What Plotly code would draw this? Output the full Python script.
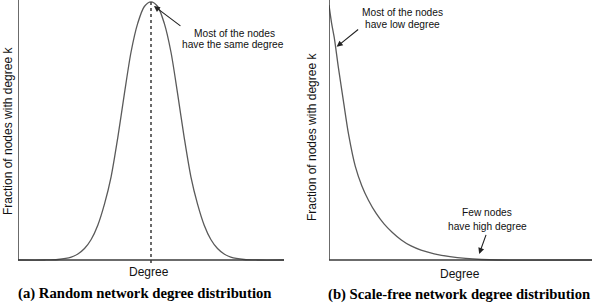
import plotly.graph_objects as go

# ---- data (degree 0..100, fraction 0..1) ----
random_degree = [0, 10, 15, 20, 22.5, 25, 27.5, 30, 32.5, 35, 37.5, 40, 42.5, 45, 47.5,
                 50, 52.5, 55, 57.5, 60, 62.5, 65, 67.5, 70, 72.5, 75, 77.5, 80, 85, 90, 100]
random_fraction = [0, 0, 0.002, 0.011, 0.023, 0.044, 0.079, 0.134, 0.215, 0.32, 0.47, 0.64, 0.80, 0.91, 0.975,
                   0.993, 0.975, 0.91, 0.80, 0.64, 0.47, 0.32, 0.215, 0.134, 0.079, 0.044, 0.023, 0.011, 0.002, 0, 0]
peak_degree = 50
peak_fraction = 0.993

sf_degree = [0, 1, 2, 3.5, 5.5, 7.5, 10, 12.5, 15, 18, 21, 24, 27.5, 31, 35, 40, 46, 52, 58, 64, 100]
sf_fraction = [0.98, 0.91, 0.855, 0.745, 0.61, 0.48, 0.36, 0.285, 0.23, 0.178, 0.138, 0.107,
               0.077, 0.055, 0.038, 0.024, 0.013, 0.006, 0.002, 0, 0]

y_title = "Fraction of nodes with degree k"
x_title = "Degree"
captions = ["(a) Random network degree distribution", "(b) Scale-free network degree distribution"]

W, H = 594, 306
CURVE = "#5a5a5a"
AXC = "#3a3a3a"
SANS = "Liberation Sans, Arial, sans-serif"
SERIF = "Liberation Serif, Times New Roman, serif"

def px(x):
    return x / W

def py(y):
    return 1 - y / H

fig = go.Figure()

fig.add_trace(go.Scatter(x=random_degree, y=random_fraction, mode="lines",
                         line=dict(color=CURVE, width=1.3, shape="spline", smoothing=0.8),
                         xaxis="x", yaxis="y", hoverinfo="skip"))
fig.add_trace(go.Scatter(x=[peak_degree, peak_degree], y=[-0.012, peak_fraction], mode="lines",
                         line=dict(color=AXC, width=1.5, dash="3px,3px"),
                         xaxis="x", yaxis="y", hoverinfo="skip"))
fig.add_trace(go.Scatter(x=sf_degree, y=sf_fraction, mode="lines",
                         line=dict(color=CURVE, width=1.3, shape="spline", smoothing=0.8),
                         xaxis="x2", yaxis="y2", hoverinfo="skip"))

ybot = py(260 + 0.012 * 260)
common_x = dict(range=[0, 100], showgrid=False, zeroline=False, showticklabels=False,
                ticks="", showline=False, fixedrange=True)
common_y = dict(range=[-0.012, 1.0], showgrid=False, zeroline=False, showticklabels=False,
                ticks="", showline=False, fixedrange=True, domain=[ybot, 1.0])

fig.update_layout(
    width=W, height=H,
    margin=dict(l=0, r=0, t=0, b=0),
    paper_bgcolor="white", plot_bgcolor="white",
    showlegend=False,
    xaxis=dict(common_x, domain=[px(18), px(284)], anchor="y"),
    yaxis=dict(common_y, anchor="x"),
    xaxis2=dict(common_x, domain=[px(329), px(592)], anchor="y2"),
    yaxis2=dict(common_y, anchor="x2"),
)

# axis lines
for xr, yr in (("x", "y"), ("x2", "y2")):
    fig.add_shape(type="line", xref=xr, yref=yr, x0=0, x1=100, y0=0, y1=0,
                  line=dict(color=AXC, width=1.5))
    fig.add_shape(type="line", xref=xr, yref=yr, x0=0, x1=0, y0=0, y1=1.0,
                  line=dict(color=AXC, width=1.5))

def text(x, y, s, size=10, font=SANS, color="#111", angle=0):
    fig.add_annotation(x=px(x), y=py(y), xref="paper", yref="paper", text=s, showarrow=False,
                       xanchor="center", yanchor="middle", textangle=angle,
                       font=dict(family=font, size=size, color=color))

# axis titles
text(8, 131, y_title, size=12, angle=-90)
text(312, 137, y_title, size=12, angle=-90)
text(149, 272, x_title, size=12)
text(460, 274, x_title, size=12)

# captions
text(145, 293, "<b>" + captions[0] + "</b>", size=14.7, font=SERIF, color="#000")
text(458.5, 294, "<b>" + captions[1] + "</b>", size=14.7, font=SERIF, color="#000")

# annotation texts
text(234, 33.3, "Most of the nodes", size=10.2)
text(233, 44.3, "have the same degree", size=10.2)
text(402, 12.7, "Most of the nodes", size=10.2)
text(402, 24.3, "have low degree", size=10.2)
text(487, 212.5, "Few nodes", size=10.2)
text(487.5, 226.2, "have high degree", size=10.2)

# arrows
def arrow(xr, yr, hx, hy, ax, ay):
    fig.add_annotation(x=hx, y=hy, xref=xr, yref=yr, ax=ax, ay=ay, axref="pixel", ayref="pixel",
                       text="", showarrow=True, arrowhead=2, arrowsize=1.1, arrowwidth=1.1,
                       arrowcolor="#222", standoff=0)

arrow("x", "y", 51.1, 0.977, 28, 21)
arrow("x2", "y2", 2.9, 0.820, 23, -18.5)
arrow("x2", "y2", 57.1, 0.023, 7.4, -20.7)

fig.write_html("out.html")
